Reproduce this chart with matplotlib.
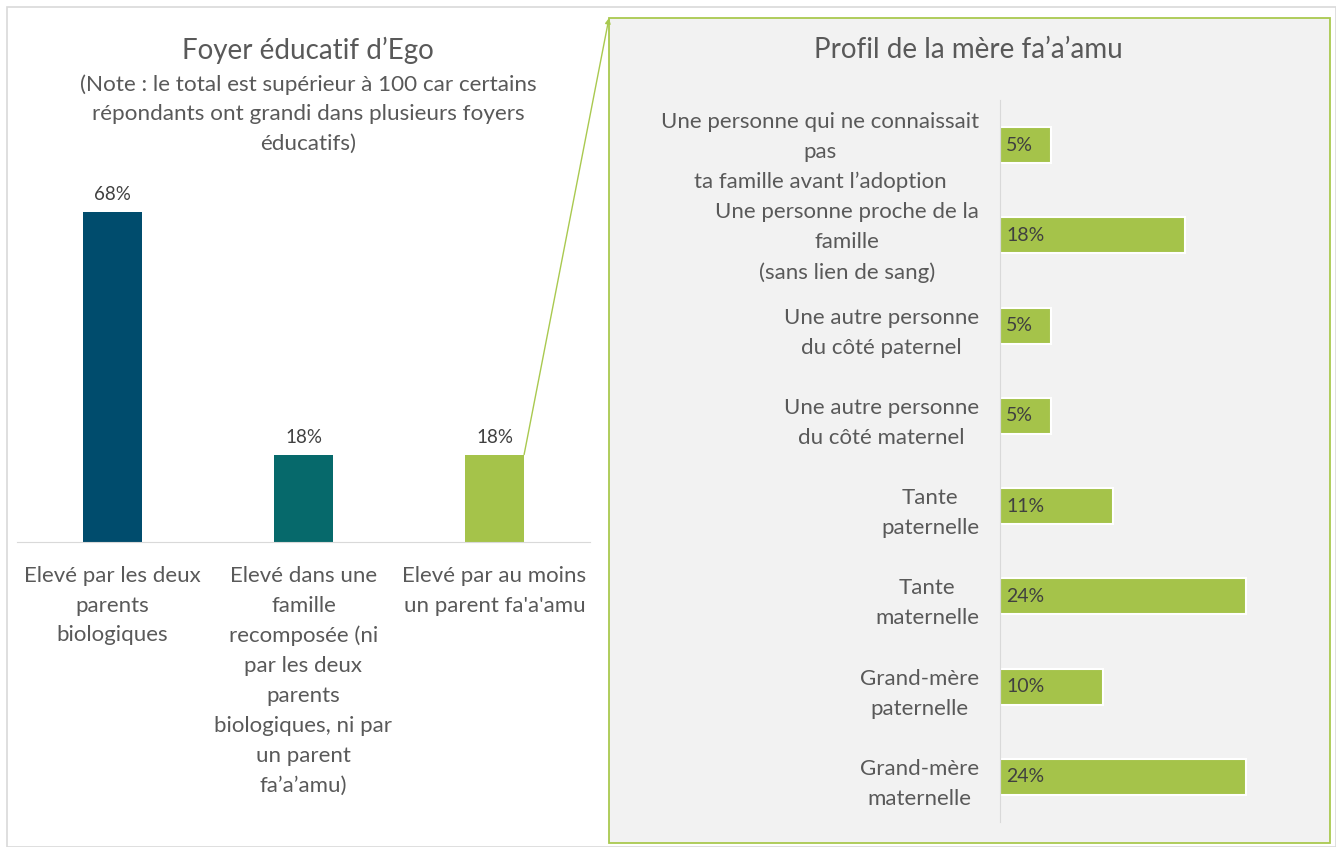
import matplotlib.pyplot as plt
from matplotlib.patches import Rectangle, ConnectionPatch

plt.rcParams['font.family'] = ['Lato', 'DejaVu Sans']

# left chart data
foyer_labels = ["Elevé par les deux\nparents\nbiologiques",
                "Elevé dans une\nfamille\nrecomposée (ni\npar les deux\nparents\nbiologiques, ni par\nun parent\nfa\u2019a\u2019amu)",
                "Elevé par au moins\nun parent fa'a'amu"]
foyer_values = [68, 18, 18]
foyer_colors = ["#004c6d", "#06696b", "#a5c34a"]

# right chart data
profil_labels = ["Une personne qui ne connaissait\npas\nta famille avant l\u2019adoption",
                 "Une personne proche de la\nfamille\n(sans lien de sang)",
                 "Une autre personne\ndu côté paternel",
                 "Une autre personne\ndu côté maternel",
                 "Tante\npaternelle",
                 "Tante\nmaternelle",
                 "Grand-mère\npaternelle",
                 "Grand-mère\nmaternelle"]
profil_values = [5, 18, 5, 5, 11, 24, 10, 24]

W, H = 1336, 847
fig = plt.figure(figsize=(W / 100, H / 100), dpi=100)
txt = "#595959"

def px(x0, y0, x1, y1):
    # pixel box (top-left origin) -> figure fraction rect
    return [x0 / W, 1 - y1 / H, (x1 - x0) / W, (y1 - y0) / H]

# outer frame
fig.patches.append(Rectangle((7 / W, 0), 1 - 7 / W, 1 - 7 / H, transform=fig.transFigure,
                             fill=False, edgecolor="#d9d9d9", lw=1.2, zorder=-2))
# right panel box
fig.patches.append(Rectangle((609 / W, 1 - 843 / H), (1330 - 609) / W, (843 - 18) / H,
                             transform=fig.transFigure, facecolor="#f2f2f2",
                             edgecolor="#a9c94f", lw=1.3, zorder=-1))

# ---- left chart
ax1 = fig.add_axes(px(17, 202, 590, 542))
x = range(len(foyer_values))
bars = ax1.bar(x, foyer_values, width=0.31, color=foyer_colors)
ax1.set_xlim(-0.5, 2.5)
ax1.set_ylim(0, 70)
for b, v in zip(bars, foyer_values):
    ax1.text(b.get_x() + b.get_width() / 2, v + 1.8, f"{v}%", ha="center", va="bottom",
             fontsize=13.5, color="#404040")
ax1.set_yticks([])
ax1.set_xticks(list(x))
ax1.set_xticklabels(foyer_labels, fontsize=16, color=txt, linespacing=1.62, va="top")
ax1.tick_params(axis="x", length=0, pad=17)
for s in ["top", "right", "left"]:
    ax1.spines[s].set_visible(False)
ax1.spines["bottom"].set_color("#d9d9d9")
ax1.patch.set_alpha(0)

fig.text(308 / W, 1 - 50 / H, "Foyer éducatif d\u2019Ego", ha="center", va="center",
         fontsize=20, color=txt)
fig.text(308 / W, 1 - 114 / H,
         "(Note : le total est supérieur à 100 car certains\nrépondants ont grandi dans plusieurs foyers\néducatifs)",
         ha="center", va="center", fontsize=16.2, color=txt, linespacing=1.6)

# ---- right chart
ax2 = fig.add_axes(px(1000, 100, 1310, 822))
y = range(len(profil_values))
ax2.barh(y, profil_values, height=0.4, color="#a5c34a", edgecolor="white", lw=1.5)
ax2.set_ylim(7.5, -0.5)
ax2.set_xlim(0, 30.2)
for yi, v in zip(y, profil_values):
    ax2.text(0.6, yi, f"{v}%", ha="left", va="center", fontsize=14, color="#404040")
ax2.set_xticks([])
ax2.set_yticks(list(y))
ax2.set_yticklabels(profil_labels, fontsize=16, color=txt, linespacing=1.62,
                    multialignment="center")
ax2.tick_params(axis="y", length=0, pad=15)
for s in ["top", "right", "bottom"]:
    ax2.spines[s].set_visible(False)
ax2.spines["left"].set_color("#d9d9d9")
ax2.patch.set_alpha(0)

fig.text(968 / W, 1 - 50 / H, "Profil de la mère fa\u2019a\u2019amu", ha="center", va="center",
         fontsize=20, color=txt)

# connector from third bar to the panel
b3 = bars[2]
con = ConnectionPatch(xyA=(b3.get_x() + b3.get_width(), foyer_values[2]), coordsA=ax1.transData,
                      xyB=(609 / W, 1 - 18 / H), coordsB=fig.transFigure,
                      arrowstyle="-|>", mutation_scale=8, color="#a9c94f", lw=1)
fig.add_artist(con)

fig.savefig("out.png", dpi=100)
